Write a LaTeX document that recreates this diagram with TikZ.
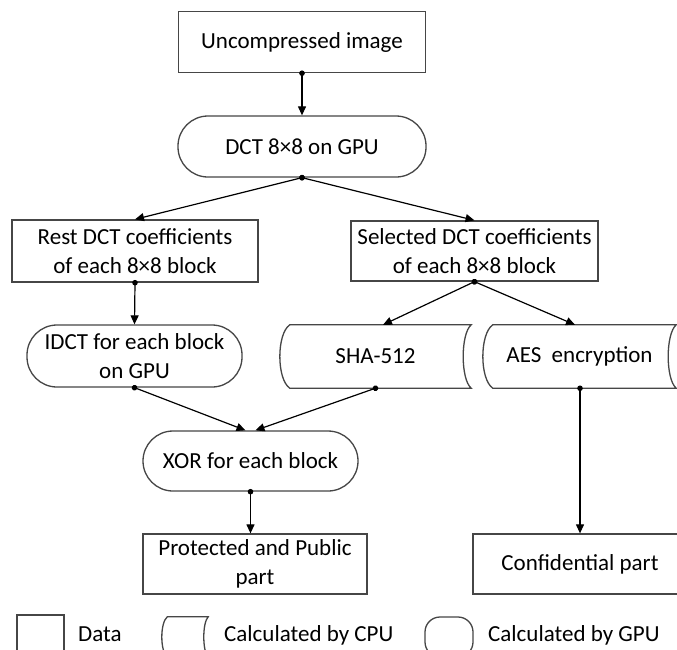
\documentclass[tikz,border=0pt]{standalone}
\usepackage{fontspec}
\setmainfont{Carlito}
\usetikzlibrary{arrows.meta,calc}
\definecolor{boxline}{RGB}{70,70,70}
\begin{document}
\begin{tikzpicture}[x=1pt,y=-1pt,
  txt/.style={font=\fontsize{23}{28.5}\selectfont, align=center, inner sep=0pt, text=black},
  datanode/.style={txt, draw=boxline, line width=1.3pt},
  gpunode/.style={txt, draw=boxline, line width=1.3pt, rounded corners=30pt},
  cpunode/.style={txt},
  cpuline/.style={draw=boxline, line width=1.3pt},
  conn/.style={line width=1.2pt, black, {Circle[length=5.5pt]}-{Triangle[length=9pt,width=8pt]}, shorten <=-2.7pt},
]
\useasboundingbox (0,0) rectangle (677,649);
\clip (0,0) rectangle (677,649);
\fill[white] (0,0) rectangle (677,649);

% main nodes
\node[datanode, minimum width=247pt, minimum height=61pt] (img) at (302,42) {Uncompressed image};
\node[gpunode, minimum width=248pt, minimum height=61pt] (dct) at (302,146.5) {DCT 8×8 on GPU};
\node[datanode, minimum width=246pt, minimum height=62pt] (rest) at (135,251) {Rest DCT coefficients\\of each 8×8 block};
\node[datanode, minimum width=247pt, minimum height=60pt] (sel) at (474.5,251) {Selected DCT coefficients\\of each 8×8 block};
\node[gpunode, minimum width=215pt, minimum height=62pt] (idct) at (134.5,356) {IDCT for each block\\on GPU};
\node[cpunode, minimum width=191pt, minimum height=63pt] (sha) at (375.5,356.5) {SHA-512};
\node[cpunode, minimum width=193pt, minimum height=63pt] (aes) at (579.5,356.5) {AES~ encryption};
\node[gpunode, minimum width=215pt, minimum height=60pt] (xor) at (250.5,461) {XOR for each block};
\node[datanode, minimum width=224pt, minimum height=60pt] (prot) at (255,564) {Protected and Public\\part};
\node[datanode, minimum width=214pt, minimum height=60pt] (conf) at (580,564) {Confidential part};

% legend
\node[datanode, minimum width=47pt, minimum height=40pt] (ldata) at (40.5,635) {};
\node[txt, anchor=base west] (ldatat) at (78,641) {Data};
\node[cpunode, minimum width=46pt, minimum height=40pt] (lcpu) at (185,637) {};
\node[txt, anchor=base west] (lcput) at (224,641) {Calculated by CPU};
\node[gpunode, rounded corners=15pt, minimum width=48pt, minimum height=40pt] (lgpu) at (449,637) {};
\node[txt, anchor=base west] (lgput) at (488,641) {Calculated by GPU};

% CPU (stored data) outlines
\foreach \n/\d/\k in {sha/10/9, aes/10/9, lcpu/5.5/6}{
  \draw[cpuline] ([xshift={\d*1pt}]\n.north west) -- (\n.north east)
    .. controls ([xshift={-\d*1.07pt},yshift={-\k*1pt}]\n.north east) and ([xshift={-\d*1.07pt},yshift={\k*1pt}]\n.south east) .. (\n.south east)
    -- ([xshift={\d*1pt}]\n.south west)
    .. controls ([xshift={-\d*0.33pt},yshift={\k*1pt}]\n.south west) and ([xshift={-\d*0.33pt},yshift={-\k*1pt}]\n.north west) .. cycle;
}

% connectors
\draw[conn] (img.south) -- (dct.north);
\draw[conn] (dct.south) -- (rest.north);
\draw[conn] (dct.south) -- (sel.north);
\draw[conn] (rest.south) -- (idct.north);
\draw[conn] (sel.south) -- ([xshift=7.5pt]sha.north);
\draw[conn] (sel.south) -- ([xshift=-4.5pt]aes.north);
\draw[conn] (idct.south) -- ([xshift=-5pt]xor.north);
\draw[conn] (sha.south) -- ([xshift=5pt]xor.north);
\draw[conn] (xor.south) -- (xor.south |- prot.north);
\draw[conn] (conf.north |- aes.south) -- (conf.north);
\end{tikzpicture}
\end{document}
